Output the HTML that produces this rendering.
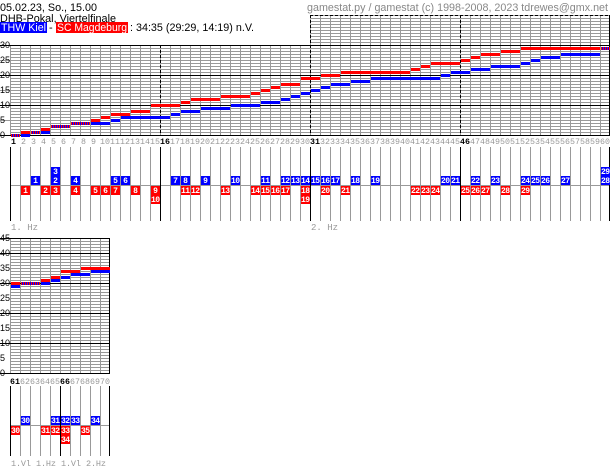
<!DOCTYPE html>
<html><head><meta charset="utf-8"><style>
html,body{margin:0;padding:0;background:#fff;width:611px;height:471px;overflow:hidden}
svg{display:block}
.h{font-family:"Liberation Sans",sans-serif;font-size:11px}
.ax{font-family:"Liberation Mono",monospace;font-size:8.3px;fill:#999}
.axb{fill:#000;font-weight:bold}
.yl{font-family:"Liberation Sans",sans-serif;font-size:9px;fill:#000}
.m{font-family:"Liberation Mono",monospace;font-size:8px;font-weight:bold;fill:#fff;text-anchor:middle}
.lb{font-family:"Liberation Mono",monospace;font-size:9px;fill:#999}
</style></head><body>
<svg width="611" height="471" xmlns="http://www.w3.org/2000/svg">
<defs>
<pattern id="hg" width="10" height="3" patternUnits="userSpaceOnUse" x="0" y="0"><rect width="10" height="1" fill="#999"/><rect width="1" height="3" fill="#999"/></pattern>
<pattern id="hg2" width="10" height="3" patternUnits="userSpaceOnUse" x="0" y="1"><rect width="10" height="1" fill="#999"/><rect width="1" height="3" fill="#999"/></pattern>
<pattern id="st" width="2" height="3" patternUnits="userSpaceOnUse"><rect width="1" height="3" fill="#00f"/><rect x="1" width="1" height="3" fill="#f00"/></pattern>
<pattern id="vg" width="10" height="10" patternUnits="userSpaceOnUse" x="0"><rect width="1" height="10" fill="#999"/></pattern>
</defs>
<!-- header -->
<text class="h" x="0" y="11" textLength="97" lengthAdjust="spacingAndGlyphs">05.02.23, So., 15.00</text>
<text class="h" x="0" y="22" textLength="116" lengthAdjust="spacingAndGlyphs">DHB-Pokal, Viertelfinale</text>
<rect x="0" y="22" width="47" height="11" fill="#00f"/><text class="h" x="1" y="31" fill="#fff" textLength="45" lengthAdjust="spacingAndGlyphs">THW Kiel</text>
<text class="h" x="49" y="31">-</text>
<rect x="56" y="22" width="72" height="11" fill="#f00"/><text class="h" x="57" y="31" fill="#fff" textLength="70" lengthAdjust="spacingAndGlyphs">SC Magdeburg</text>
<text class="h" x="130" y="31" textLength="124" lengthAdjust="spacingAndGlyphs">: 34:35 (29:29, 14:19) n.V.</text>
<text class="h" x="307" y="11" fill="#888" textLength="301" lengthAdjust="spacingAndGlyphs">gamestat.py / gamestat (c) 1998-2008, 2023 tdrewes@gmx.net</text>

<!-- main score grid -->
<rect x="10" y="45" width="600" height="90" fill="url(#hg)"/>
<rect x="310" y="15" width="300" height="30" fill="url(#hg)"/>
<g fill="#999"><rect x="0" y="120" width="10" height="1"/><rect x="0" y="90" width="10" height="1"/><rect x="0" y="60" width="10" height="1"/></g>
<g fill="#000">
<rect x="0" y="135" width="610" height="1"/><rect x="0" y="105" width="610" height="1"/><rect x="0" y="75" width="610" height="1"/><rect x="0" y="45" width="610" height="1"/>
<rect x="609" y="15" width="1" height="121"/>
</g>
<g stroke="#000" stroke-width="1" stroke-dasharray="3,2">
<line x1="310" y1="15.5" x2="610" y2="15.5"/>
<line x1="160.5" y1="45" x2="160.5" y2="135"/>
<line x1="310.5" y1="15" x2="310.5" y2="135"/>
<line x1="460.5" y1="15" x2="460.5" y2="135"/>
</g>
<g class="yl"><text x="0" y="138">0</text><text x="0" y="123">5</text><text x="0" y="108">10</text><text x="0" y="93">15</text><text x="0" y="78">20</text><text x="0" y="63">25</text><text x="0" y="48">30</text></g>

<!-- bars -->
<g fill="#00f">
<rect x="21" y="134" width="9" height="3"/><rect x="41" y="131" width="9" height="3"/><rect x="91" y="122" width="19" height="3"/>
<rect x="111" y="119" width="9" height="3"/><rect x="121" y="116" width="49" height="3"/><rect x="171" y="113" width="9" height="3"/>
<rect x="181" y="110" width="19" height="3"/><rect x="201" y="107" width="29" height="3"/><rect x="231" y="104" width="29" height="3"/>
<rect x="261" y="101" width="19" height="3"/><rect x="281" y="98" width="9" height="3"/><rect x="291" y="95" width="9" height="3"/>
<rect x="301" y="92" width="9" height="3"/><rect x="311" y="89" width="9" height="3"/><rect x="321" y="86" width="9" height="3"/>
<rect x="331" y="83" width="19" height="3"/><rect x="351" y="80" width="19" height="3"/><rect x="371" y="77" width="69" height="3"/>
<rect x="441" y="74" width="9" height="3"/><rect x="451" y="71" width="19" height="3"/><rect x="471" y="68" width="19" height="3"/>
<rect x="491" y="65" width="29" height="3"/><rect x="521" y="62" width="9" height="3"/><rect x="531" y="59" width="9" height="3"/>
<rect x="541" y="56" width="19" height="3"/><rect x="561" y="53" width="39" height="3"/>
</g>
<g fill="#f00">
<rect x="21" y="131" width="9" height="3"/><rect x="41" y="128" width="9" height="3"/><rect x="91" y="119" width="9" height="3"/>
<rect x="101" y="116" width="9" height="3"/><rect x="111" y="113" width="19" height="3"/><rect x="131" y="110" width="19" height="3"/>
<rect x="151" y="104" width="29" height="3"/><rect x="181" y="101" width="9" height="3"/><rect x="191" y="98" width="29" height="3"/>
<rect x="221" y="95" width="29" height="3"/><rect x="251" y="92" width="9" height="3"/><rect x="261" y="89" width="9" height="3"/>
<rect x="271" y="86" width="9" height="3"/><rect x="281" y="83" width="19" height="3"/><rect x="301" y="77" width="19" height="3"/>
<rect x="321" y="74" width="19" height="3"/><rect x="341" y="71" width="69" height="3"/><rect x="411" y="68" width="9" height="3"/>
<rect x="421" y="65" width="9" height="3"/><rect x="431" y="62" width="29" height="3"/><rect x="461" y="59" width="9" height="3"/>
<rect x="471" y="56" width="9" height="3"/><rect x="481" y="53" width="19" height="3"/><rect x="501" y="50" width="19" height="3"/>
<rect x="521" y="47" width="79" height="3"/>
</g>
<g fill="url(#st)">
<rect x="11" y="134" width="9" height="3"/><rect x="31" y="131" width="9" height="3"/><rect x="51" y="125" width="19" height="3"/>
<rect x="71" y="122" width="19" height="3"/><rect x="601" y="47" width="9" height="3"/>
</g>

<!-- axis labels -->
<g class="ax">
<text x="11" y="144" class="axb">1</text><text x="21" y="144">2</text><text x="31" y="144">3</text><text x="41" y="144">4</text><text x="51" y="144">5</text><text x="61" y="144">6</text><text x="71" y="144">7</text><text x="81" y="144">8</text><text x="91" y="144">9</text>
<text x="100" y="144">10</text><text x="110" y="144">11</text><text x="120" y="144">12</text><text x="130" y="144">13</text><text x="140" y="144">14</text><text x="150" y="144">15</text><text x="160" y="144" class="axb">16</text><text x="170" y="144">17</text><text x="180" y="144">18</text><text x="190" y="144">19</text>
<text x="200" y="144">20</text><text x="210" y="144">21</text><text x="220" y="144">22</text><text x="230" y="144">23</text><text x="240" y="144">24</text><text x="250" y="144">25</text><text x="260" y="144">26</text><text x="270" y="144">27</text><text x="280" y="144">28</text><text x="290" y="144">29</text>
<text x="300" y="144">30</text><text x="310" y="144" class="axb">31</text><text x="320" y="144">32</text><text x="330" y="144">33</text><text x="340" y="144">34</text><text x="350" y="144">35</text><text x="360" y="144">36</text><text x="370" y="144">37</text><text x="380" y="144">38</text><text x="390" y="144">39</text>
<text x="400" y="144">40</text><text x="410" y="144">41</text><text x="420" y="144">42</text><text x="430" y="144">43</text><text x="440" y="144">44</text><text x="450" y="144">45</text><text x="460" y="144" class="axb">46</text><text x="470" y="144">47</text><text x="480" y="144">48</text><text x="490" y="144">49</text>
<text x="500" y="144">50</text><text x="510" y="144">51</text><text x="520" y="144">52</text><text x="530" y="144">53</text><text x="540" y="144">54</text><text x="550" y="144">55</text><text x="560" y="144">56</text><text x="570" y="144">57</text><text x="580" y="144">58</text><text x="590" y="144">59</text><text x="600" y="144">60</text>
</g>

<!-- main markers area -->
<rect x="10" y="147" width="600" height="74" fill="url(#vg)"/>
<rect x="10" y="185" width="600" height="1" fill="#999"/>
<g fill="#000"><rect x="10" y="147" width="1" height="74"/><rect x="160" y="147" width="1" height="74"/><rect x="310" y="147" width="1" height="74"/><rect x="460" y="147" width="1" height="74"/><rect x="609" y="147" width="1" height="74"/></g>
<g fill="#00f">
<rect x="31" y="176" width="9" height="9"/><rect x="51" y="176" width="9" height="9"/><rect x="51" y="167" width="9" height="9"/><rect x="71" y="176" width="9" height="9"/>
<rect x="111" y="176" width="9" height="9"/><rect x="121" y="176" width="9" height="9"/><rect x="171" y="176" width="9" height="9"/><rect x="181" y="176" width="9" height="9"/>
<rect x="201" y="176" width="9" height="9"/><rect x="231" y="176" width="9" height="9"/><rect x="261" y="176" width="9" height="9"/><rect x="281" y="176" width="9" height="9"/>
<rect x="291" y="176" width="9" height="9"/><rect x="301" y="176" width="9" height="9"/><rect x="311" y="176" width="9" height="9"/><rect x="321" y="176" width="9" height="9"/>
<rect x="331" y="176" width="9" height="9"/><rect x="351" y="176" width="9" height="9"/><rect x="371" y="176" width="9" height="9"/><rect x="441" y="176" width="9" height="9"/>
<rect x="451" y="176" width="9" height="9"/><rect x="471" y="176" width="9" height="9"/><rect x="491" y="176" width="9" height="9"/><rect x="521" y="176" width="9" height="9"/>
<rect x="531" y="176" width="9" height="9"/><rect x="541" y="176" width="9" height="9"/><rect x="561" y="176" width="9" height="9"/><rect x="601" y="176" width="9" height="9"/><rect x="601" y="167" width="9" height="9"/>
</g>
<g fill="#f00">
<rect x="21" y="186" width="9" height="9"/><rect x="41" y="186" width="9" height="9"/><rect x="51" y="186" width="9" height="9"/><rect x="71" y="186" width="9" height="9"/>
<rect x="91" y="186" width="9" height="9"/><rect x="101" y="186" width="9" height="9"/><rect x="111" y="186" width="9" height="9"/><rect x="131" y="186" width="9" height="9"/>
<rect x="151" y="186" width="9" height="9"/><rect x="151" y="195" width="9" height="9"/><rect x="181" y="186" width="9" height="9"/><rect x="191" y="186" width="9" height="9"/>
<rect x="221" y="186" width="9" height="9"/><rect x="251" y="186" width="9" height="9"/><rect x="261" y="186" width="9" height="9"/><rect x="271" y="186" width="9" height="9"/>
<rect x="281" y="186" width="9" height="9"/><rect x="301" y="186" width="9" height="9"/><rect x="301" y="195" width="9" height="9"/><rect x="321" y="186" width="9" height="9"/>
<rect x="341" y="186" width="9" height="9"/><rect x="411" y="186" width="9" height="9"/><rect x="421" y="186" width="9" height="9"/><rect x="431" y="186" width="9" height="9"/>
<rect x="461" y="186" width="9" height="9"/><rect x="471" y="186" width="9" height="9"/><rect x="481" y="186" width="9" height="9"/><rect x="501" y="186" width="9" height="9"/><rect x="521" y="186" width="9" height="9"/>
</g>
<g class="m">
<text x="35.5" y="183">1</text><text x="55.5" y="183">2</text><text x="55.5" y="174">3</text><text x="75.5" y="183">4</text>
<text x="115.5" y="183">5</text><text x="125.5" y="183">6</text><text x="175.5" y="183">7</text><text x="185.5" y="183">8</text>
<text x="205.5" y="183">9</text><text x="235.5" y="183" textLength="9">10</text><text x="265.5" y="183" textLength="9">11</text><text x="285.5" y="183" textLength="9">12</text>
<text x="295.5" y="183" textLength="9">13</text><text x="305.5" y="183" textLength="9">14</text><text x="315.5" y="183" textLength="9">15</text><text x="325.5" y="183" textLength="9">16</text>
<text x="335.5" y="183" textLength="9">17</text><text x="355.5" y="183" textLength="9">18</text><text x="375.5" y="183" textLength="9">19</text><text x="445.5" y="183" textLength="9">20</text>
<text x="455.5" y="183" textLength="9">21</text><text x="475.5" y="183" textLength="9">22</text><text x="495.5" y="183" textLength="9">23</text><text x="525.5" y="183" textLength="9">24</text>
<text x="535.5" y="183" textLength="9">25</text><text x="545.5" y="183" textLength="9">26</text><text x="565.5" y="183" textLength="9">27</text><text x="605.5" y="183" textLength="9">28</text><text x="605.5" y="174" textLength="9">29</text>
<text x="25.5" y="193">1</text><text x="45.5" y="193">2</text><text x="55.5" y="193">3</text><text x="75.5" y="193">4</text>
<text x="95.5" y="193">5</text><text x="105.5" y="193">6</text><text x="115.5" y="193">7</text><text x="135.5" y="193">8</text>
<text x="155.5" y="193">9</text><text x="155.5" y="202" textLength="9">10</text><text x="185.5" y="193" textLength="9">11</text><text x="195.5" y="193" textLength="9">12</text>
<text x="225.5" y="193" textLength="9">13</text><text x="255.5" y="193" textLength="9">14</text><text x="265.5" y="193" textLength="9">15</text><text x="275.5" y="193" textLength="9">16</text>
<text x="285.5" y="193" textLength="9">17</text><text x="305.5" y="193" textLength="9">18</text><text x="305.5" y="202" textLength="9">19</text><text x="325.5" y="193" textLength="9">20</text>
<text x="345.5" y="193" textLength="9">21</text><text x="415.5" y="193" textLength="9">22</text><text x="425.5" y="193" textLength="9">23</text><text x="435.5" y="193" textLength="9">24</text>
<text x="465.5" y="193" textLength="9">25</text><text x="475.5" y="193" textLength="9">26</text><text x="485.5" y="193" textLength="9">27</text><text x="505.5" y="193" textLength="9">28</text><text x="525.5" y="193" textLength="9">29</text>
</g>
<text class="lb" x="11" y="230">1. Hz</text><text class="lb" x="311" y="230">2. Hz</text>

<!-- overtime score grid -->
<rect x="10" y="238" width="100" height="135" fill="url(#hg2)"/>
<g fill="#000">
<rect x="0" y="373" width="110" height="1"/><rect x="0" y="343" width="110" height="1"/><rect x="0" y="313" width="110" height="1"/><rect x="0" y="283" width="110" height="1"/><rect x="0" y="253" width="110" height="1"/><rect x="0" y="238" width="110" height="1"/>
<rect x="109" y="238" width="1" height="136"/>
</g>
<g class="yl"><text x="0" y="376">0</text><text x="0" y="361">5</text><text x="0" y="346">10</text><text x="0" y="331">15</text><text x="0" y="316">20</text><text x="0" y="301">25</text><text x="0" y="286">30</text><text x="0" y="271">35</text><text x="0" y="256">40</text><text x="0" y="241">45</text></g>
<g fill="#00f"><rect x="11" y="285" width="9" height="3"/><rect x="41" y="282" width="9" height="3"/><rect x="51" y="279" width="9" height="3"/><rect x="61" y="276" width="9" height="3"/><rect x="71" y="273" width="19" height="3"/><rect x="91" y="270" width="19" height="3"/></g>
<g fill="#f00"><rect x="11" y="282" width="9" height="3"/><rect x="41" y="279" width="9" height="3"/><rect x="51" y="276" width="9" height="3"/><rect x="61" y="270" width="19" height="3"/><rect x="81" y="267" width="29" height="3"/></g>
<rect x="21" y="282" width="19" height="3" fill="url(#st)"/>
<g class="ax">
<text x="10" y="384" class="axb">61</text><text x="20" y="384">62</text><text x="30" y="384">63</text><text x="40" y="384">64</text><text x="50" y="384">65</text><text x="60" y="384" class="axb">66</text><text x="70" y="384">67</text><text x="80" y="384">68</text><text x="90" y="384">69</text><text x="100" y="384">70</text>
</g>

<!-- overtime markers -->
<rect x="10" y="386" width="100" height="70" fill="url(#vg)"/>
<rect x="10" y="425" width="100" height="1" fill="#999"/>
<g fill="#000"><rect x="10" y="386" width="1" height="70"/><rect x="60" y="386" width="1" height="70"/><rect x="109" y="386" width="1" height="70"/></g>
<g fill="#00f"><rect x="21" y="416" width="9" height="9"/><rect x="51" y="416" width="9" height="9"/><rect x="61" y="416" width="9" height="9"/><rect x="71" y="416" width="9" height="9"/><rect x="91" y="416" width="9" height="9"/></g>
<g fill="#f00"><rect x="11" y="426" width="9" height="9"/><rect x="41" y="426" width="9" height="9"/><rect x="51" y="426" width="9" height="9"/><rect x="61" y="426" width="9" height="9"/><rect x="61" y="435" width="9" height="9"/><rect x="81" y="426" width="9" height="9"/></g>
<g class="m">
<text x="25.5" y="423" textLength="9">30</text><text x="55.5" y="423" textLength="9">31</text><text x="65.5" y="423" textLength="9">32</text><text x="75.5" y="423" textLength="9">33</text><text x="95.5" y="423" textLength="9">34</text>
<text x="15.5" y="433" textLength="9">30</text><text x="45.5" y="433" textLength="9">31</text><text x="55.5" y="433" textLength="9">32</text><text x="65.5" y="433" textLength="9">33</text><text x="65.5" y="442" textLength="9">34</text><text x="85.5" y="433" textLength="9">35</text>
</g>
<g class="lb" style="font-size:8.5px"><text x="11" y="466" textLength="20">1.Vl</text><text x="36" y="466" textLength="20">1.Hz</text><text x="61" y="466" textLength="20">1.Vl</text><text x="86" y="466" textLength="20">2.Hz</text></g>
</svg>
</body></html>
